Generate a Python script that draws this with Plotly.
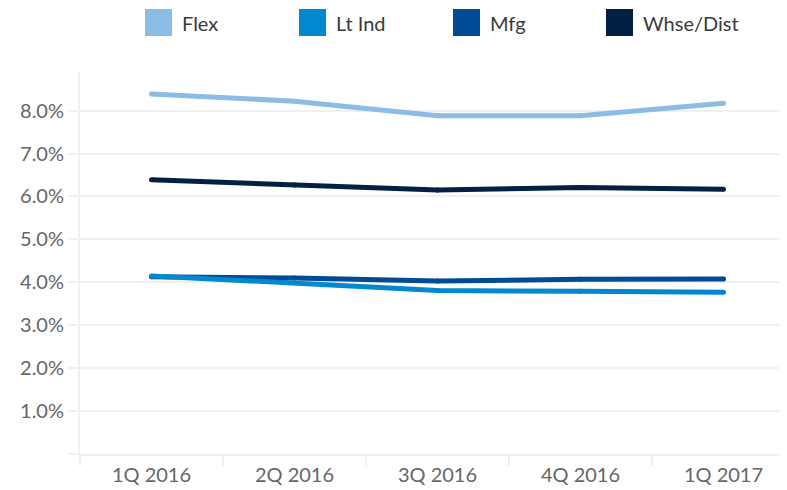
import plotly.graph_objects as go

quarters = ["1Q 2016", "2Q 2016", "3Q 2016", "4Q 2016", "1Q 2017"]
series_names = ["Flex", "Lt Ind", "Mfg", "Whse/Dist"]
flex = [8.39, 8.22, 7.88, 7.88, 8.17]
lt_ind = [4.15, 3.99, 3.81, 3.79, 3.77]
mfg = [4.13, 4.10, 4.03, 4.07, 4.08]
whse_dist = [6.39, 6.27, 6.15, 6.21, 6.17]
y_tick_values = [0, 1, 2, 3, 4, 5, 6, 7, 8]
y_tick_labels = ["", "1.0%", "2.0%", "3.0%", "4.0%", "5.0%", "6.0%", "7.0%", "8.0%"]

colors = {"Flex": "#8BBCE6", "Lt Ind": "#0088D1", "Mfg": "#004B96", "Whse/Dist": "#022042"}
values = {"Flex": flex, "Lt Ind": lt_ind, "Mfg": mfg, "Whse/Dist": whse_dist}

FONT = "Lato, Carlito, Calibri, sans-serif"
W, H = 787, 490
ML, MR, MT, MB = 72, 0, 64, 44
OFF = 8  # page body offset
grid = "#F0F0F0"

fig = go.Figure()
# draw order: Lt Ind on top of Mfg
for name in ["Flex", "Whse/Dist", "Mfg", "Lt Ind"]:
    fig.add_trace(go.Scatter(
        x=quarters, y=values[name], name=name, mode="lines+markers",
        line=dict(color=colors[name], width=5),
        marker=dict(color=colors[name], size=5),
        showlegend=False, hoverinfo="x+y+name",
    ))

# manual legend with large squares (positions in window pixels)
pw = W - ML - MR
ph = H - MT - MB
def px_x(p):
    return (p - OFF - ML) / pw
def px_y(p):
    return (H - MB - (p - OFF)) / ph

legend_x = [145, 299, 453, 606]
for name, lx in zip(series_names, legend_x):
    fig.add_shape(type="rect", xref="paper", yref="paper",
                  x0=px_x(lx), x1=px_x(lx + 27), y0=px_y(36), y1=px_y(9),
                  fillcolor=colors[name], line=dict(width=0), layer="above")
    fig.add_annotation(xref="paper", yref="paper", x=px_x(lx + 35), y=px_y(23),
                       xanchor="left", yanchor="middle", text=name, showarrow=False,
                       font=dict(family=FONT, size=20, color="#3A3A3A"))

fig.update_layout(
    width=W, height=H,
    margin=dict(l=ML, r=MR, t=MT, b=MB),
    paper_bgcolor="white", plot_bgcolor="white",
    font=dict(family=FONT, size=20, color="#666666"),
    xaxis=dict(
        type="category", range=[-0.5, 4.5],
        showgrid=False, zeroline=False,
        showline=True, linecolor=grid, linewidth=2,
        ticks="outside", tickson="boundaries", ticklen=10, tickwidth=2, tickcolor=grid,
        ticklabelstandoff=2,
        tickfont=dict(family=FONT, size=20, color="#666666"),
    ),
    yaxis=dict(
        range=[0, 8.9], tickvals=y_tick_values, ticktext=y_tick_labels,
        showgrid=True, gridcolor=grid, gridwidth=2, zeroline=False,
        showline=True, linecolor=grid, linewidth=2,
        ticks="outside", ticklen=10, tickwidth=2, tickcolor=grid,
        tickfont=dict(family=FONT, size=20, color="#666666"),
    ),
)

fig.write_html("out.html")
